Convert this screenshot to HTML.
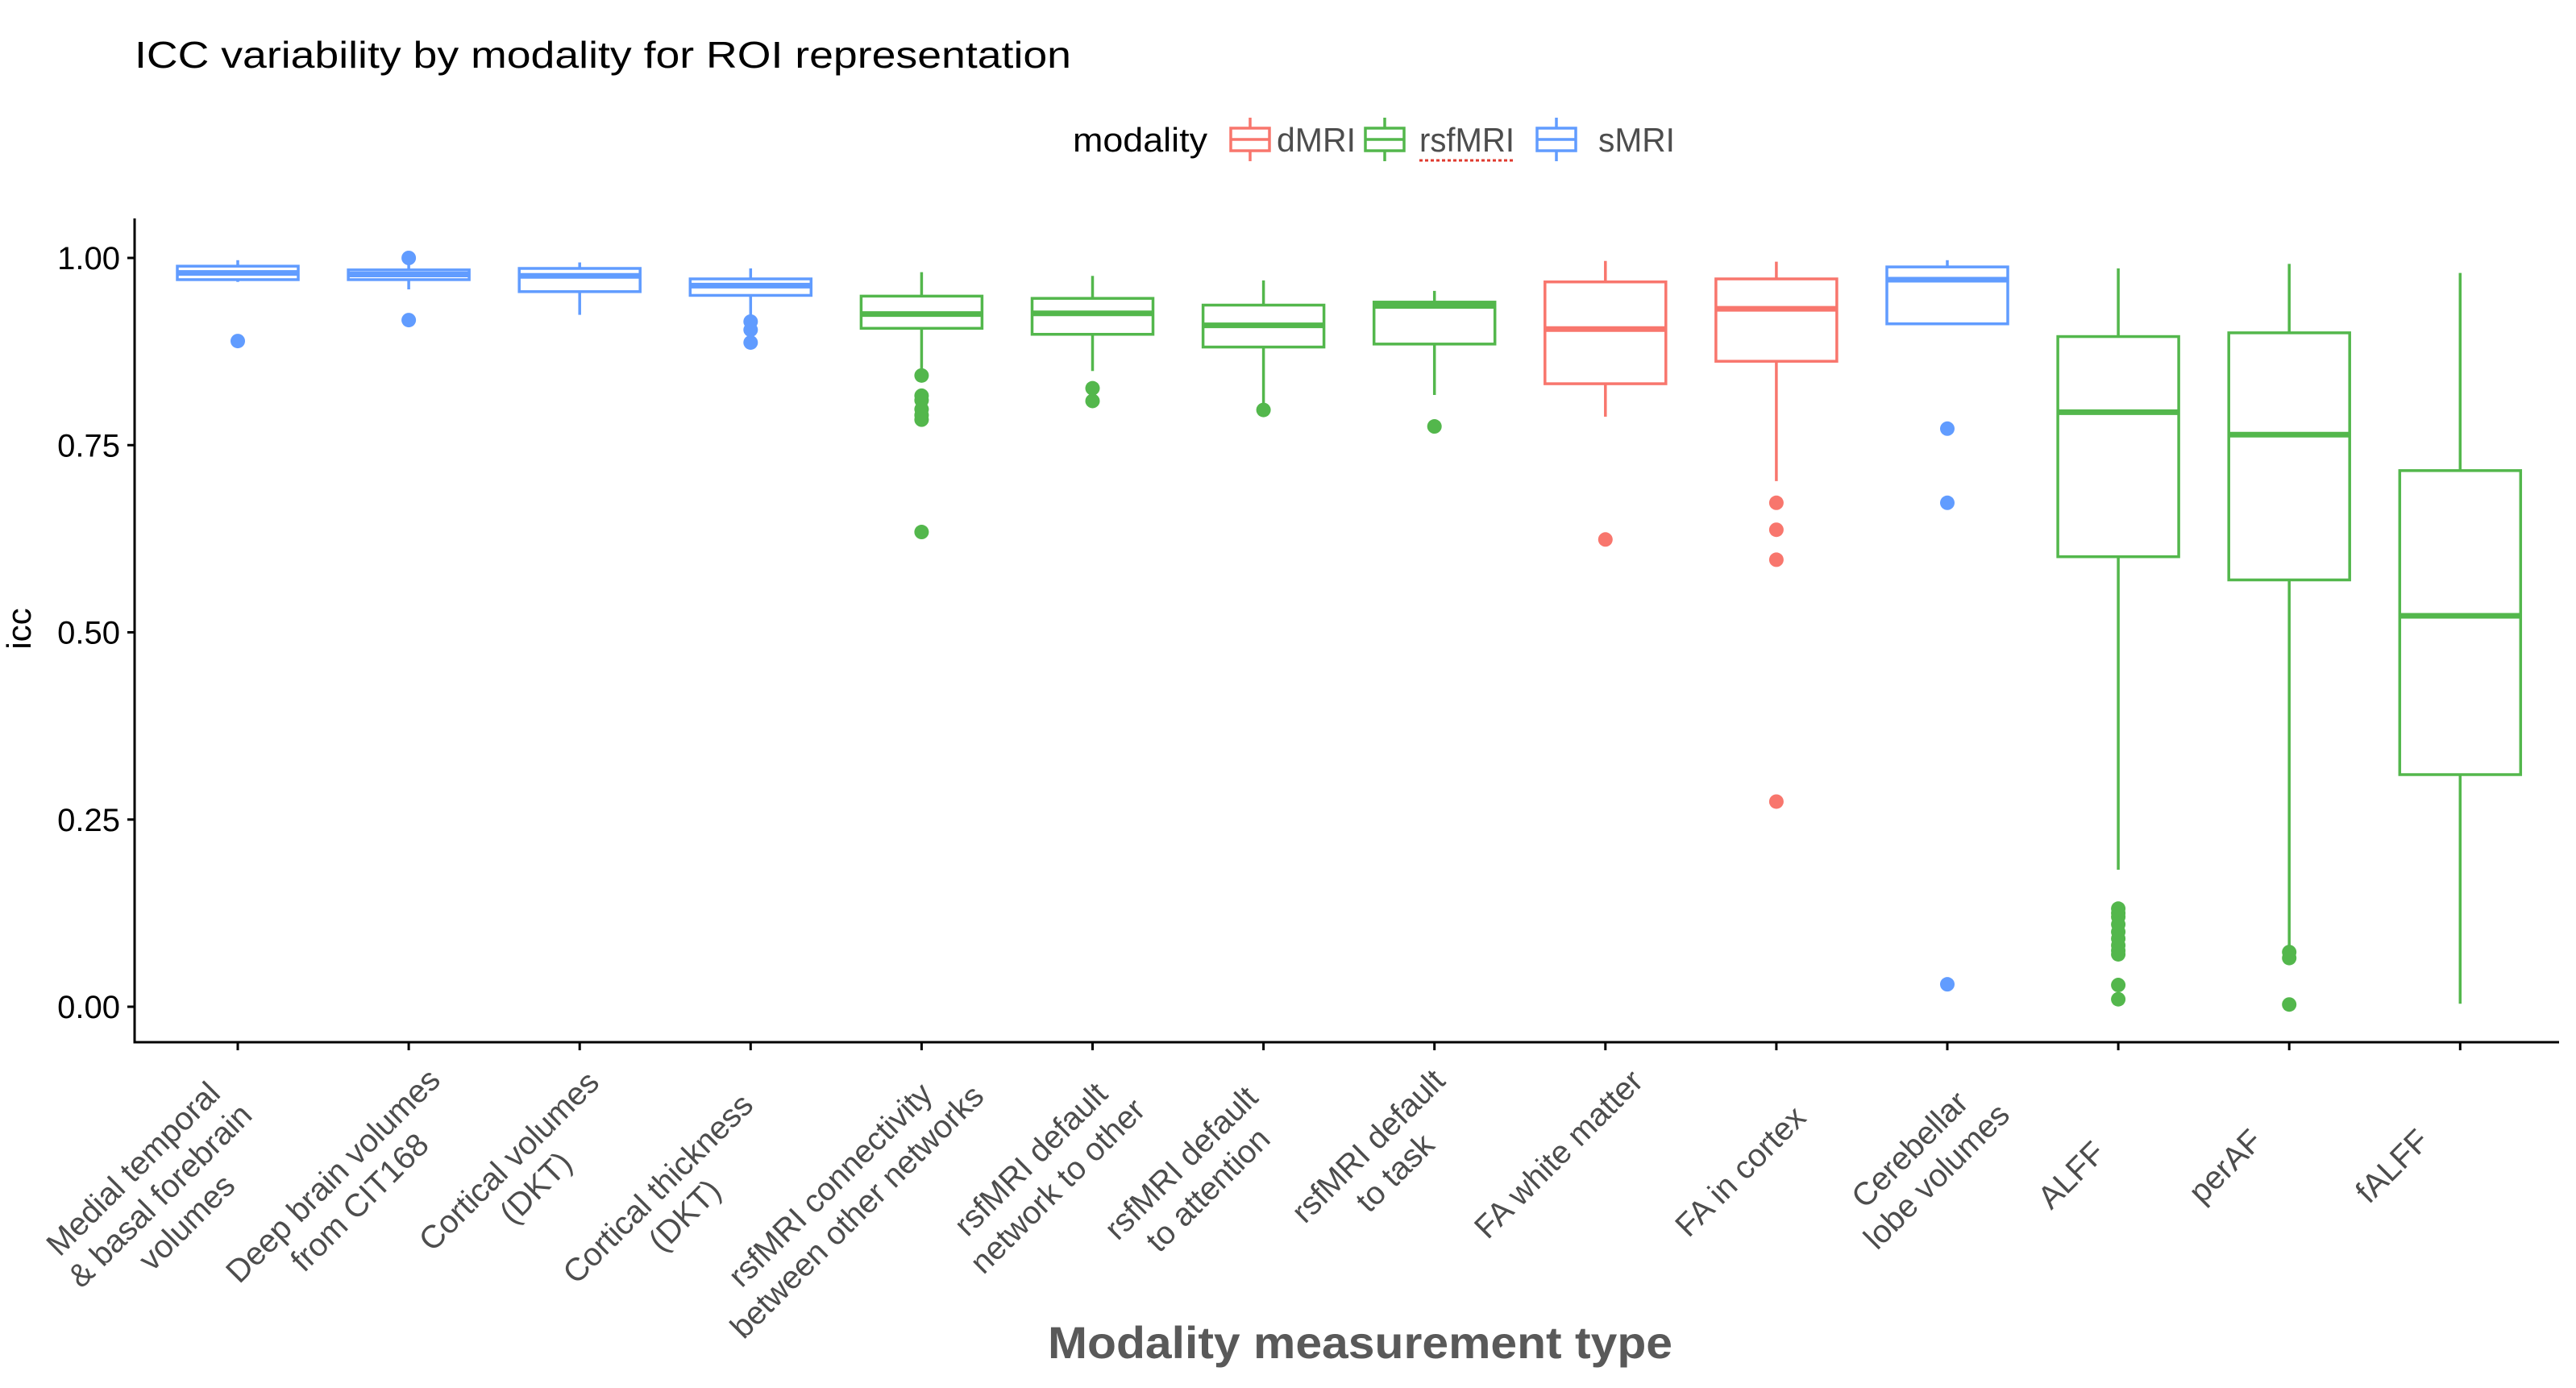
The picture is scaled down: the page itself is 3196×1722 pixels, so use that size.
<!DOCTYPE html>
<html><head><meta charset="utf-8"><style>
html,body{margin:0;padding:0;background:#fff;}
svg{display:block;font-family:"Liberation Sans",Arial,sans-serif;}
</style></head><body>
<svg id="chart" width="3196" height="1722" viewBox="0 0 3196 1722" xmlns="http://www.w3.org/2000/svg">
<rect width="3196" height="1722" fill="#fff"/>
<text x="167" y="84" font-size="46" fill="#000" textLength="1162" lengthAdjust="spacingAndGlyphs">ICC variability by modality for ROI representation</text>
<g>
<text x="1331" y="188" font-size="42" fill="#000" textLength="167" lengthAdjust="spacingAndGlyphs">modality</text>
<g>
<line x1="1551" y1="146" x2="1551" y2="200" stroke="#F8766D" stroke-width="3.5"/>
<rect x="1527" y="159" width="48" height="28" fill="#fff" stroke="#F8766D" stroke-width="3.5"/>
<line x1="1527" y1="173" x2="1575" y2="173" stroke="#F8766D" stroke-width="3.5"/>
<text x="1584" y="188" font-size="42" fill="#4d4d4d" textLength="98" lengthAdjust="spacingAndGlyphs">dMRI</text></g>
<g>
<line x1="1718" y1="146" x2="1718" y2="200" stroke="#53B74C" stroke-width="3.5"/>
<rect x="1694" y="159" width="48" height="28" fill="#fff" stroke="#53B74C" stroke-width="3.5"/>
<line x1="1694" y1="173" x2="1742" y2="173" stroke="#53B74C" stroke-width="3.5"/>
<text x="1761" y="188" font-size="42" fill="#4d4d4d" textLength="118" lengthAdjust="spacingAndGlyphs">rsfMRI</text>
<line x1="1761" y1="199" x2="1880" y2="199" stroke="#e03a2e" stroke-width="3" stroke-dasharray="4,3"/></g>
<g>
<line x1="1931" y1="146" x2="1931" y2="200" stroke="#619CFF" stroke-width="3.5"/>
<rect x="1907" y="159" width="48" height="28" fill="#fff" stroke="#619CFF" stroke-width="3.5"/>
<line x1="1907" y1="173" x2="1955" y2="173" stroke="#619CFF" stroke-width="3.5"/>
<text x="1983" y="188" font-size="42" fill="#4d4d4d" textLength="95" lengthAdjust="spacingAndGlyphs">sMRI</text></g>
</g>
<g id="yaxis"></g>
<g id="xaxis"></g>
<g id="boxes"></g>
<text transform="translate(38,780) rotate(-90)" text-anchor="middle" font-size="42" fill="#000">icc</text>
<text x="1300" y="1685" font-size="56" font-weight="bold" fill="#595959" textLength="775" lengthAdjust="spacingAndGlyphs">Modality measurement type</text>
</svg>
<script>
const categories = [["Medial temporal","& basal forebrain","volumes"],["Deep brain volumes","from CIT168"],["Cortical volumes","(DKT)"],["Cortical thickness","(DKT)"],["rsfMRI connectivity","between other networks"],["rsfMRI default","network to other"],["rsfMRI default","to attention"],["rsfMRI default","to task"],["FA white matter"],["FA in cortex"],["Cerebellar","lobe volumes"],["ALFF"],["perAF"],["fALFF"]];
const modality = ["sMRI","sMRI","sMRI","sMRI","rsfMRI","rsfMRI","rsfMRI","rsfMRI","dMRI","dMRI","sMRI","rsfMRI","rsfMRI","rsfMRI"];
const whiskerLow = [0.968,0.958,0.924,0.915,0.850,0.849,0.800,0.817,0.788,0.702,0.912,0.183,0.073,0.004];
const q1 = [0.971,0.971,0.955,0.950,0.906,0.898,0.881,0.885,0.832,0.862,0.912,0.601,0.570,0.310];
const median = [0.980,0.978,0.976,0.963,0.925,0.926,0.910,0.936,0.905,0.932,0.971,0.794,0.764,0.522];
const q3 = [0.989,0.984,0.986,0.972,0.949,0.946,0.937,0.941,0.968,0.972,0.988,0.895,0.900,0.716];
const whiskerHigh = [0.997,0.992,0.994,0.986,0.981,0.976,0.970,0.956,0.996,0.995,0.997,0.986,0.992,0.980];
const outliers = [[0.889],[1.0,0.917],[],[0.915,0.904,0.887],[0.843,0.816,0.810,0.798,0.790,0.784,0.634],[0.826,0.809],[0.797],[0.775],[0.624],[0.673,0.637,0.597,0.274],[0.772,0.673,0.030],[0.131,0.125,0.120,0.110,0.100,0.091,0.082,0.075,0.070,0.029,0.010],[0.073,0.065,0.003],[]];
const yTicks = [0, 0.25, 0.5, 0.75, 1.0];
const yTickLabels = ["0.00","0.25","0.50","0.75","1.00"];

// layout (not data)
const labelDx = [10,48,33,12,53,41,2,22,39,29,53,-24,-41,-46];
const labelCy = [1376,1349,1352,1380,1336,1353,1371,1350,1334,1379,1359,1423,1408,1408];
const colors = {dMRI:"#F8766D", rsfMRI:"#53B74C", sMRI:"#619CFF"};
const NS = "http://www.w3.org/2000/svg";
const X0 = 295, XSTEP = 212.1, Y0 = 1249, YSPAN = 929;
const AX_L = 167, AX_B = 1293, AX_T = 271, AX_R = 3175, BW = 150;
function xs(i){ return X0 + i*XSTEP; }
function ys(v){ return Y0 - v*YSPAN; }
function mk(tag, attrs, parent){ const e = document.createElementNS(NS, tag); for (const k in attrs) e.setAttribute(k, attrs[k]); parent.appendChild(e); return e; }

const yg = document.getElementById('yaxis');
const yl = mk('line', {x1:AX_L, y1:AX_T, x2:AX_L, y2:AX_B+1.5, stroke:'#000', 'stroke-width':3}, yg);


yTicks.forEach((t, k) => {
  const tk = mk('line', {x1:AX_L-9, y1:ys(t), x2:AX_L, y2:ys(t), stroke:'#000', 'stroke-width':3}, yg);
  
  
  const tl = mk('text', {x:AX_L-18, y:ys(t)+14, 'text-anchor':'end', 'font-size':40, fill:'#000'}, yg);
  tl.textContent = yTickLabels[k];
  
  
});

const xg = document.getElementById('xaxis');
const xl = mk('line', {x1:AX_L-1.5, y1:AX_B, x2:AX_R, y2:AX_B, stroke:'#000', 'stroke-width':3}, xg);


const u = [Math.SQRT1_2, -Math.SQRT1_2], n = [Math.SQRT1_2, Math.SQRT1_2];
const FS = 40, LH = 47;
categories.forEach((lines, i) => {
  const tk = mk('line', {x1:xs(i), y1:AX_B, x2:xs(i), y2:AX_B+10, stroke:'#000', 'stroke-width':3}, xg);
  
  
  const g = mk('g', {}, xg);
  
  
  const els = lines.map(s => { const t = mk('text', {'font-size':FS, fill:'#4d4d4d', 'text-anchor':'end'}, g); t.textContent = s; return t; });
  const ws = els.map(e => e.getComputedTextLength());
  const W = Math.max(...ws);
  const cx = xs(i) + labelDx[i], cy = labelCy[i];
  els.forEach((e, k) => {
    const p = (k - (lines.length-1)/2) * LH;
    const back = (W - ws[k]) / 2;
    const ex = cx + p*n[0] - back*u[0] + 14*n[0];
    const ey = cy + p*n[1] - back*u[1] + 14*n[1];
    e.setAttribute('x', ex.toFixed(1));
    e.setAttribute('y', ey.toFixed(1));
    e.setAttribute('transform', 'rotate(-45 ' + ex.toFixed(1) + ' ' + ey.toFixed(1) + ')');
  });
});

const bg = document.getElementById('boxes');
categories.forEach((c, i) => {
  const col = colors[modality[i]];
  const g = mk('g', {}, bg);
  
  
  const x = xs(i);
  mk('line', {x1:x, y1:ys(whiskerHigh[i]), x2:x, y2:ys(q3[i]), stroke:col, 'stroke-width':3.5}, g);
  mk('line', {x1:x, y1:ys(q1[i]), x2:x, y2:ys(whiskerLow[i]), stroke:col, 'stroke-width':3.5}, g);
  mk('rect', {x:x-BW/2, y:ys(q3[i]), width:BW, height:Math.max(ys(q1[i])-ys(q3[i]),0.5), fill:'#fff', stroke:col, 'stroke-width':3.5}, g);
  mk('line', {x1:x-BW/2, y1:ys(median[i]), x2:x+BW/2, y2:ys(median[i]), stroke:col, 'stroke-width':7}, g);
  outliers[i].forEach(v => {
    const d = mk('circle', {cx:x, cy:ys(v), r:9, fill:col}, g);
    
    
  });
});
</script>
</body></html>
